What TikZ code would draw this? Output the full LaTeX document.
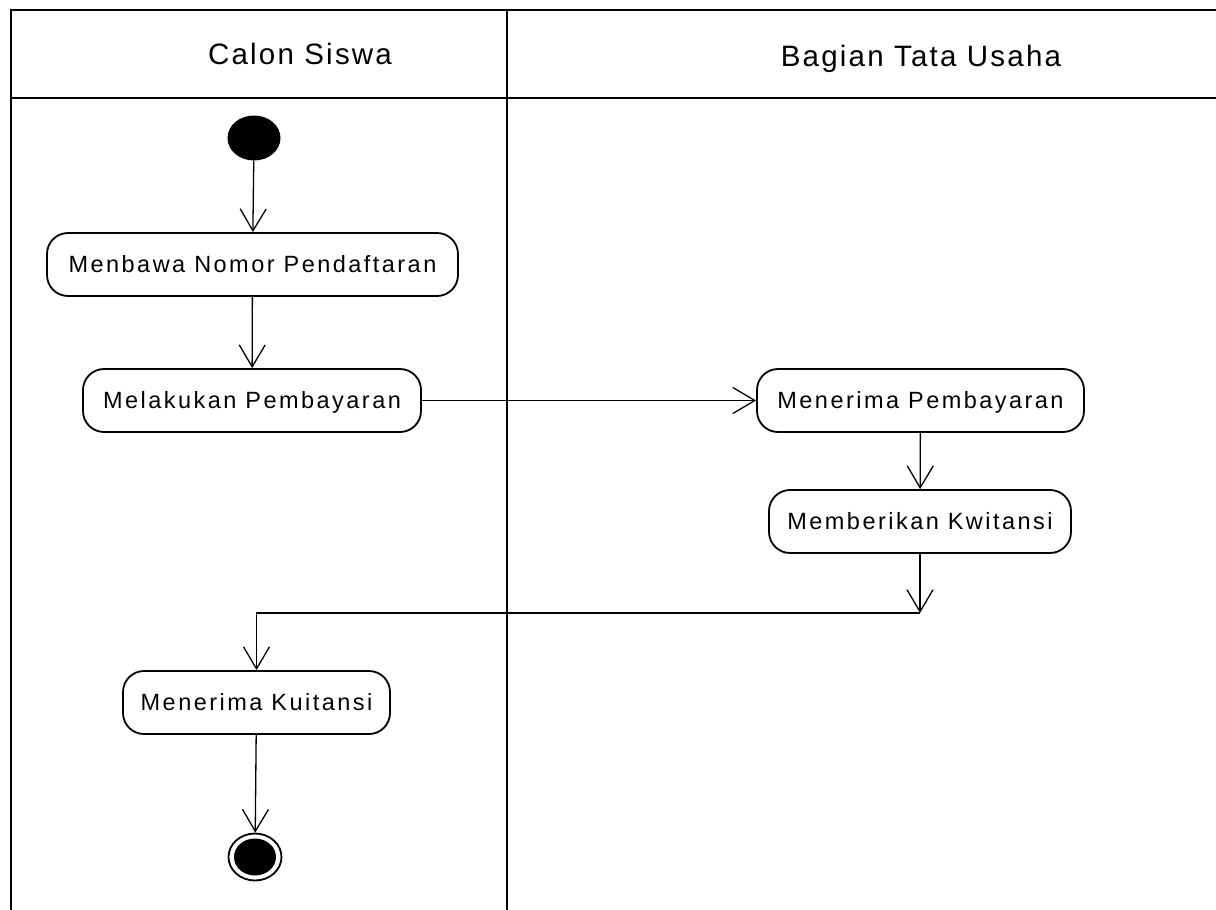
\documentclass[tikz,border=0pt]{standalone}
\usepackage{fontspec}
\usetikzlibrary{arrows.meta,shapes.geometric}
\newfontfamily\boxfont[LetterSpace=10.5]{Liberation Sans}
\newfontfamily\hdrfont[LetterSpace=7.5]{Liberation Sans}
\begin{document}
\begin{tikzpicture}[x=1pt,y=-1pt,
  act/.style={draw,line width=1.8pt,rounded corners=21pt,minimum height=63pt,inner sep=0pt,
    text height=16.8pt,text depth=0pt,font=\boxfont\fontsize{23.5}{24}\selectfont},
  flow/.style={line width=1.3pt,-{Straight Barb[length=22pt,width=26pt,line width=1.3pt]}},
  lane/.style={line width=1.8pt},
  hdr/.style={font=\hdrfont\fontsize{29.5}{30}\selectfont,anchor=base,inner sep=0pt}]
\useasboundingbox (0,0) rectangle (1216,910);
% swimlanes
\draw[lane] (11,910) -- (11,10) -- (1216,10);
\draw[lane] (11,98) -- (1216,98);
\draw[lane] (507,10) -- (507,910);
\node[hdr] (h1) at (300,64) {Calon Siswa};
\node[hdr] (h2) at (921,66) {Bagian Tata Usaha};
% start / end
\node[ellipse,fill=black,minimum width=53pt,minimum height=45pt,inner sep=0pt] (start) at (254,138) {};
\node[ellipse,draw,line width=1.8pt,fill=white,minimum width=53pt,minimum height=47pt,inner sep=0pt] (end) at (255,857) {};
\node[ellipse,fill=black,minimum width=42pt,minimum height=37pt,inner sep=0pt] (endin) at (end) {};
% activities
\node[act,minimum width=411pt] (a1) at (252.5,264.5) {Menbawa Nomor Pendaftaran};
\node[act,minimum width=338pt] (a2) at (252,400.5) {Melakukan Pembayaran};
\node[act,minimum width=327pt] (b1) at (920.5,400.5) {Menerima Pembayaran};
\node[act,minimum width=302pt] (b2) at (920,521.5) {Memberikan Kwitansi};
\node[act,minimum width=267pt] (a3) at (256.5,702.5) {Menerima Kuitansi};
\coordinate (j) at (920,613);
% flows
\draw[flow] (start) -- (a1);
\draw[flow] (a1) -- (a2);
\draw[flow] (a2) -- (b1);
\draw[flow] (b1) -- (b2);
\draw[flow] (b2) -- (j);
\draw[flow] (j) -| (a3);
\draw[flow] (a3) -- (end);
\end{tikzpicture}
\end{document}
